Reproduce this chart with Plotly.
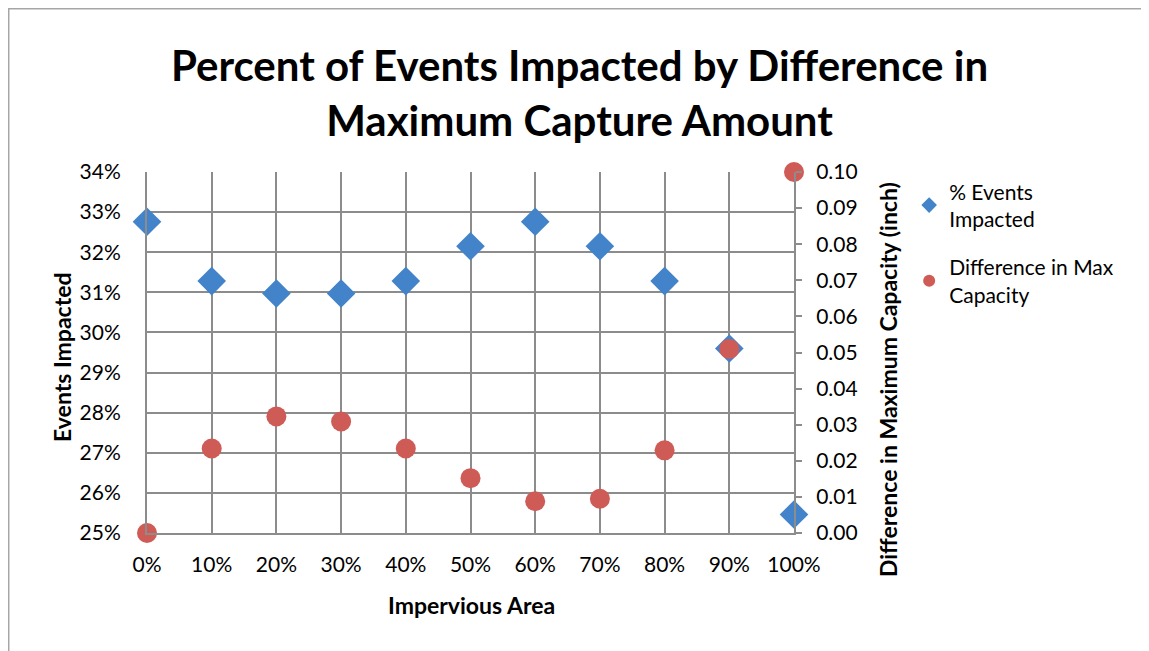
import plotly.graph_objects as go

impervious = [0.0, 0.1, 0.2, 0.3, 0.4, 0.5, 0.6, 0.7, 0.8, 0.9, 1.0]
events_impacted = [0.3276, 0.3128, 0.3097, 0.3097, 0.3128, 0.3215, 0.3276, 0.3215, 0.3128, 0.2960, 0.2546]
max_capacity_diff = [0.0000, 0.0234, 0.0323, 0.0309, 0.0234, 0.0152, 0.0088, 0.0095, 0.0229, 0.0510, 0.1000]

left_ticks = [0.25, 0.26, 0.27, 0.28, 0.29, 0.30, 0.31, 0.32, 0.33, 0.34]
right_ticks = [0.00, 0.01, 0.02, 0.03, 0.04, 0.05, 0.06, 0.07, 0.08, 0.09, 0.10]

FONT = "Lato"
GRID = "#8c8c8c"
FS = 21
TFS = 23  # axis titles

fig = go.Figure()

fig.add_trace(go.Scatter(
    x=impervious, y=events_impacted, mode="markers", name="% Events<br>Impacted",
    marker=dict(symbol="diamond", size=22, color="#4283C9"),
    cliponaxis=False, legendgroup="a",
))
fig.add_trace(go.Scatter(
    x=impervious, y=max_capacity_diff, mode="markers", name="Difference in Max<br>Capacity",
    marker=dict(symbol="circle", size=20, color="#CF5B56"), yaxis="y2",
    cliponaxis=False, legendgroup="b",
))

# page body has an 8px margin, so the figure is shrunk by that much
fig.update_layout(
    width=1141, height=643,
    margin=dict(l=139, r=355, t=164, b=118),
    paper_bgcolor="white", plot_bgcolor="white",
    font=dict(family=FONT, size=FS, color="black"),
    showlegend=True,
    xaxis=dict(
        range=[0, 1], tickvals=impervious, tickformat=".0%",
        showgrid=True, gridcolor=GRID, gridwidth=2,
        showline=True, linecolor=GRID, linewidth=2,
        ticks="", ticklabelstandoff=12, zeroline=False,
    ),
    yaxis=dict(
        range=[0.25, 0.34], tickvals=left_ticks, tickformat=".0%",
        showgrid=True, gridcolor=GRID, gridwidth=2,
        showline=True, linecolor=GRID, linewidth=2,
        ticks="", ticklabelstandoff=20, zeroline=False,
    ),
    yaxis2=dict(
        range=[0, 0.10], tickvals=right_ticks, tickformat=".2f",
        overlaying="y", side="right", showgrid=False,
        showline=True, linecolor=GRID, linewidth=2,
        ticks="outside", ticklen=6, tickcolor=GRID, tickwidth=2,
        ticklabelstandoff=10, zeroline=False,
    ),
    legend=dict(
        x=1.178, y=1.002, xanchor="left", yanchor="top",
        font=dict(family=FONT, size=FS), itemsizing="constant",
        tracegroupgap=18, bgcolor="rgba(0,0,0,0)",
    ),
    annotations=[
        dict(text="<b>Percent of Events Impacted by Difference in<br>Maximum Capture Amount</b>",
             x=0.669, y=1.219, xref="paper", yref="paper", showarrow=False,
             xanchor="center", yanchor="middle", font=dict(size=42)),
        dict(text="<b>Events Impacted</b>", textangle=-90, x=-0.1314, y=0.4875,
             xref="paper", yref="paper", showarrow=False,
             xanchor="center", yanchor="middle", font=dict(size=TFS)),
        dict(text="<b>Impervious Area</b>", x=0.5008, y=-0.1994, xref="paper", yref="paper",
             showarrow=False, xanchor="center", yanchor="middle", font=dict(size=TFS)),
        dict(text="<b>Difference in Maximum Capacity (inch)</b>", textangle=-90,
             x=1.1453, y=0.4238, xref="paper", yref="paper", showarrow=False,
             xanchor="center", yanchor="middle", font=dict(size=TFS)),
    ],
    shapes=[
        dict(type="rect", xref="paper", yref="paper", x0=-0.2141, x1=2.0,
             y0=-1.0, y1=1.453, line=dict(color="#a6a6a6", width=2), layer="below"),
    ],
)

fig.write_html("out.html")
